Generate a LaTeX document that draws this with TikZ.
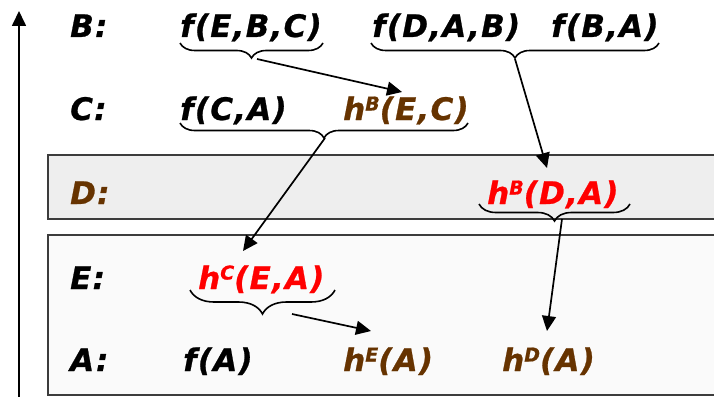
\documentclass[tikz,border=0pt]{standalone}
\usepackage{fontspec}
\setmainfont{DejaVu Sans}[LetterSpace=4,FakeBold=0.8]
\usetikzlibrary{arrows.meta,decorations.pathreplacing}
\definecolor{brn}{RGB}{102,51,0}
\definecolor{boxD}{RGB}{238,238,238}
\definecolor{boxE}{RGB}{250,250,250}
\definecolor{edgegray}{RGB}{60,60,60}
\newcommand\hs[1]{h\raisebox{9.5pt}{\fontsize{19}{19}\selectfont #1}}
\begin{document}
\begin{tikzpicture}[x=1pt,y=-1pt,
  txt/.style={anchor=base west,inner sep=0pt,font=\fontsize{31}{31}\selectfont\bfseries\itshape},
  brace/.style={decorate,decoration={brace,mirror,amplitude=#1},line width=1.6pt},
  arr/.style={-{Triangle[length=15pt,width=14pt]},line width=1.7pt},
  panel/.style={draw=edgegray,line width=1.6pt}]
\useasboundingbox (0,0) rectangle (714,396);
% panels
\draw[panel,fill=boxD] (48,155) rectangle (730,219);
\draw[panel,fill=boxE] (48,235) rectangle (730,395);
% axis
\coordinate (axb) at (19,400);
\coordinate (axt) at (19,11);
\draw[arr] (axb) -- (axt);
% texts
\node[txt] (lB) at (70,37) {B:};
\node[txt] (fEBC) at (180,37) {f(E,B,C)};
\node[txt] (fDAB) at (372,37) {f(D,A,B)};
\node[txt] (fBA) at (551,37) {f(B,A)};
\node[txt] (lC) at (70,120) {C:};
\node[txt] (fCA) at (180,120) {f(C,A)};
\node[txt,text=brn] (hBEC) at (343,120) {\hs{B}(E,C)};
\node[txt,text=brn] (lD) at (70,204) {D:};
\node[txt,text=red] (hBDA) at (487,204) {\hs{B}(D,A)};
\node[txt] (lE) at (70,289) {E:};
\node[txt,text=red] (hCEA) at (198,289) {\hs{C}(E,A)};
\node[txt] (lA) at (70,371) {A:};
\node[txt] (fA) at (183,371) {f(A)};
\node[txt,text=brn] (hEA) at (343,371) {\hs{E}(A)};
\node[txt,text=brn] (hDA) at (502,371) {\hs{D}(A)};
% braces
\draw[brace=15pt] (180,43) -- (323,43);
\draw[brace=15pt] (371,43) -- (659,43);
\draw[brace=15pt] (180,123) -- (468,123);
\draw[brace=17pt] (479,204) -- (630,204);
\draw[brace=24pt] (190,290) -- (335,290);
% arrow end points
\coordinate (s1) at (257,59);   \coordinate (e1) at (402,92);
\coordinate (s2) at (515,59);   \coordinate (e2) at (547,168);
\coordinate (s3) at (325,138);  \coordinate (e3) at (243,251);
\coordinate (s4) at (562,219);  \coordinate (e4) at (547,331);
\coordinate (s5) at (292,314);  \coordinate (e5) at (371,331);
\draw[arr] (s1) -- (e1);
\draw[arr] (s2) -- (e2);
\draw[arr] (s3) -- (e3);
\draw[arr] (s4) -- (e4);
\draw[arr] (s5) -- (e5);
\end{tikzpicture}
\end{document}
